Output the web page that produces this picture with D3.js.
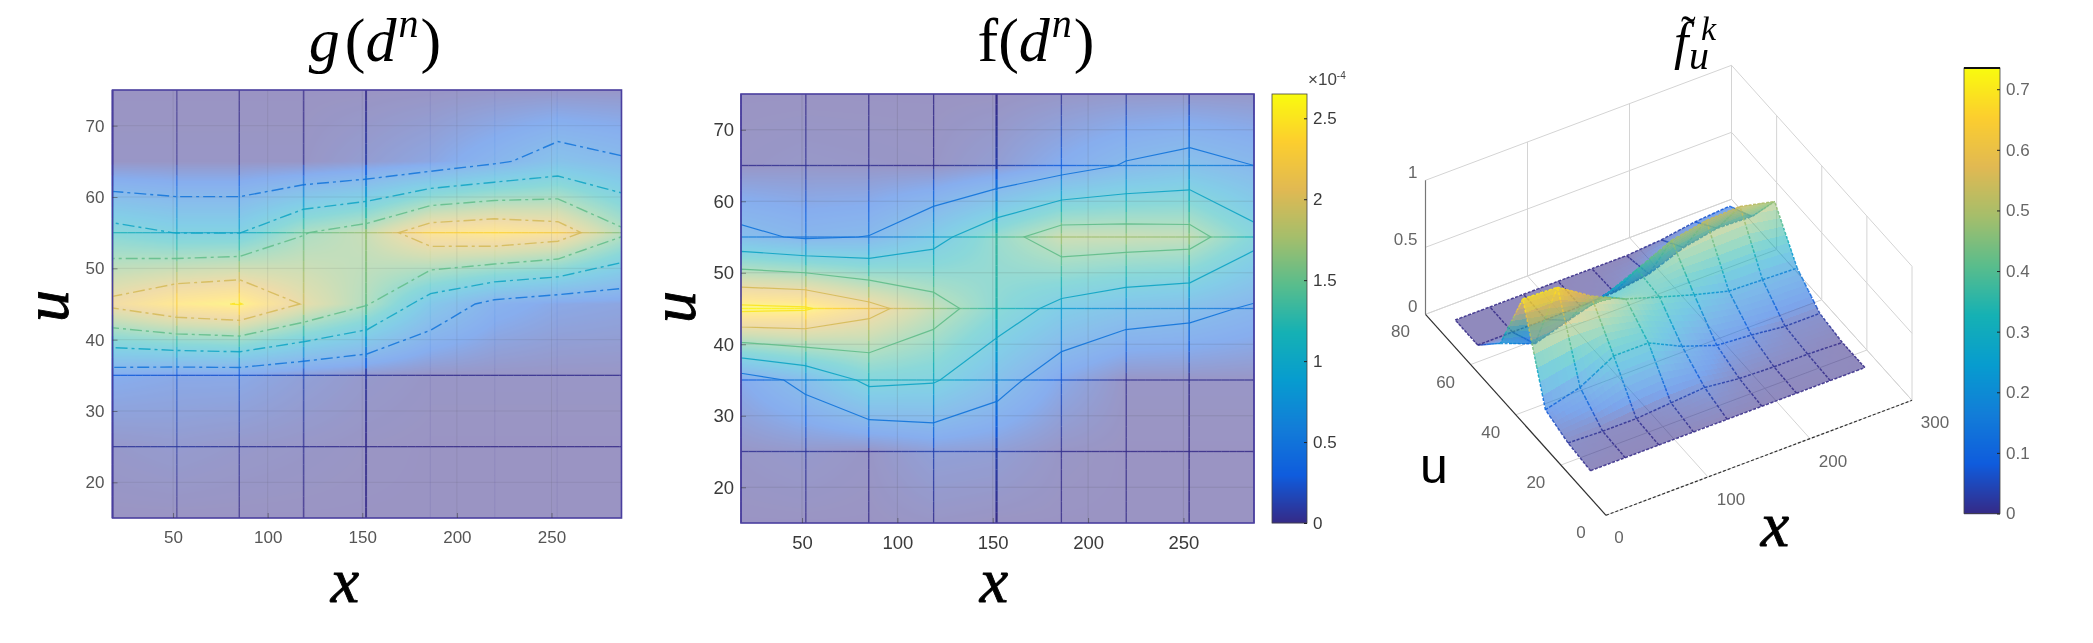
<!DOCTYPE html>
<html><head><meta charset="utf-8">
<script src="https://cdn.jsdelivr.net/npm/d3@7"></script>
<style>
html,body{margin:0;padding:0;background:#fff;overflow:hidden}
#wrap{position:relative;width:2093px;height:643px}
canvas,svg{position:absolute;left:0;top:0}
.soft{filter:blur(0.5px)}
.softer{filter:blur(0.7px)}
</style></head><body>
<div id="wrap"><canvas id="heat" width="2093" height="643"></canvas><svg id="chart" width="2093" height="643"></svg></div>
<script>
// ---------- data ----------
const xGrid = [18,52,85,119,152,186,220,253,287];
const uGrid = [15,25,35,45,55,65,75];
// rows follow uGrid, columns follow xGrid
const gValues = [
 [0,0,0,0,0,0,0,0,0],
 [0.05,0.08,0.05,0.03,0.01,0,0,0,0],
 [0.30,0.25,0.25,0.14,0.06,0.02,0.02,0.02,0.02],
 [2.10,2.40,2.52,1.97,1.53,0.78,0.38,0.24,0.20],
 [1.16,0.99,0.99,1.48,1.71,2.29,2.38,2.24,1.58],
 [0.02,0.02,0.02,0.02,0.10,0.21,0.43,0.68,0.54],
 [0,0,0,0,0,0.01,0.03,0.03,0.03]
];
const fValues = [
 [0,0,0,0.02,0,0,0,0,0],
 [0.03,0.06,0.02,0.14,0.12,0.02,0,0,0],
 [0.28,0.61,1.10,1.04,0.66,0.25,0.02,0.02,0.02],
 [2.60,2.55,2.15,1.69,1.23,0.88,0.70,0.62,0.45],
 [0.60,0.45,0.51,0.86,1.33,1.74,1.72,1.68,1.13],
 [0.02,0.04,0.03,0.02,0.11,0.31,0.53,0.65,0.50],
 [0,0,0,0,0,0.03,0.05,0.05,0.04]
];
const fkValues = [
 [0,0,0,0,0,0,0,0,0],
 [0.02,0.01,0.01,0.03,0.05,0.02,0.01,0.01,0],
 [0.08,0.15,0.29,0.29,0.17,0.08,0.06,0.03,0.03],
 [0.72,0.71,0.55,0.43,0.35,0.27,0.20,0.19,0.18],
 [0.20,0.10,0.18,0.26,0.37,0.49,0.54,0.55,0.49],
 [0,0,0,0,0.01,0.05,0.15,0.20,0.19],
 [0,0,0,0,0,0,0.02,0.06,0.08]
];
const contourLevels = [0.5,1,1.5,2,2.5];
const xTicks2D = [50,100,150,200,250];
const uTicks2D = [20,30,40,50,60,70];
const fBarTicks = [0,0.5,1,1.5,2,2.5];
const fkBarTicks = [0,0.1,0.2,0.3,0.4,0.5,0.6,0.7];
const xTicks3D = [0,100,200,300];
const uTicks3D = [0,20,40,60,80];
const zTicks3D = [0,0.5,1];
const parulaColors = ["#352a87","#0f5cdd","#127dd8","#079ccf","#15b1b4","#59bd8c","#a5be6b","#e1b952","#fcce2e","#f9fb0e"];

// ---------- helpers ----------
const svg = d3.select("#chart");
const ctx = document.getElementById("heat").getContext("2d");
const parula = d3.scaleLinear().domain(d3.range(10).map(i=>i/9)).range(parulaColors).interpolate(d3.interpolateRgb).clamp(true);
const xIdx = d3.scaleLinear().domain(xGrid).range(d3.range(xGrid.length)).clamp(true);
const uIdx = d3.scaleLinear().domain(uGrid).range(d3.range(uGrid.length)).clamp(true);
function bilinear(vals,x,u){
  const fx=xIdx(x),fu=uIdx(u),i=Math.min(Math.floor(fx),xGrid.length-2),j=Math.min(Math.floor(fu),uGrid.length-2),a=fx-i,b=fu-j;
  return (vals[j][i]*(1-a)+vals[j][i+1]*a)*(1-b)+(vals[j+1][i]*(1-a)+vals[j+1][i+1]*a)*b;
}
const serif = '"Liberation Serif","DejaVu Serif",serif';
const sans = '"Liberation Sans",Arimo,sans-serif';
function mathText(x,y,parts,size,anchor){
  const t=svg.append("text").attr("x",x).attr("y",y).attr("text-anchor",anchor||"middle").attr("font-family",serif).attr("font-size",size).attr("fill","#000");
  parts.forEach(p=>{
    const s=t.append("tspan").text(p.t).attr("font-style",p.i?"italic":"normal");
    if(p.dy) s.attr("dy",p.dy);
    if(p.dx) s.attr("dx",p.dx);
    if(p.fs) s.attr("font-size",p.fs);
  });
  return t;
}
const heavy=t=>t.attr("stroke","#000").attr("stroke-width",0.9);

// ---------- 2D panels ----------
function panel2D(id,vals,box,vmax,style){
  const xS=d3.scaleLinear().domain([18,287]).range([box.l,box.r]);
  const yS=d3.scaleLinear().domain([15,75]).range([box.b,box.t]);
  const color=v=>parula(v/vmax);
  const w=Math.round(box.r-box.l),h=Math.round(box.b-box.t);
  const img=ctx.createImageData(w,h);
  for(let py=0;py<h;py++)for(let px=0;px<w;px++){
    const v=bilinear(vals,xS.invert(box.l+px+.5),yS.invert(box.t+py+.5));
    const c=d3.rgb(color(v)),k=(py*w+px)*4,a=style.alpha;
    img.data[k]=c.r*a+255*(1-a);img.data[k+1]=c.g*a+255*(1-a);img.data[k+2]=c.b*a+255*(1-a);img.data[k+3]=255;
  }
  ctx.putImageData(img,Math.round(box.l),Math.round(box.t));
  const g=svg.append("g");
  const clipId="clip"+id;
  svg.append("clipPath").attr("id",clipId).append("rect").attr("x",box.l).attr("y",box.t).attr("width",box.r-box.l).attr("height",box.b-box.t);
  const grid=g.append("g").attr("stroke","#444").attr("stroke-opacity",style.gridOp).attr("stroke-width",1);
  grid.selectAll("line.v").data(xTicks2D).join("line").attr("x1",d=>xS(d)).attr("x2",d=>xS(d)).attr("y1",box.t).attr("y2",box.b);
  grid.selectAll("line.h").data(uTicks2D).join("line").attr("y1",d=>yS(d)).attr("y2",d=>yS(d)).attr("x1",box.l).attr("x2",box.r);
  const segs=[];
  xGrid.forEach((x,i)=>{ const op=style.meshX[i]; if(!op) return;
    d3.range(0,60,1.5).forEach(s=>{const u0=15+s,u1=u0+1.5;segs.push({x0:x,x1:x,u0,u1,v:bilinear(vals,x,u0+.75),op,w:style.meshW[i]||1.2});});
  });
  uGrid.forEach((u,j)=>{ const op=style.meshU[j]; if(!op) return;
    d3.range(0,269,4).forEach(s=>{const x0=18+s,x1=Math.min(x0+4,287);segs.push({x0,x1,u0:u,u1:u,v:bilinear(vals,x0+2,u),op,w:1.3});});
  });
  g.append("g").selectAll("line").data(segs).join("line")
    .attr("x1",d=>xS(d.x0)).attr("x2",d=>xS(d.x1)).attr("y1",d=>yS(d.u0)).attr("y2",d=>yS(d.u1))
    .attr("stroke",d=>color(d.v)).attr("stroke-opacity",d=>d.op).attr("stroke-width",d=>d.w);
  const cIdxX=d3.scaleLinear().domain([0.5,8.5]).range([18,287]);
  const cIdxY=d3.scaleLinear().domain([0.5,6.5]).range([15,75]);
  const path=d3.geoPath(d3.geoTransform({point(a,b){this.stream.point(xS(cIdxX(a)),yS(cIdxY(b)));}}));
  const cs=d3.contours().size([9,7]).smooth(true).thresholds(contourLevels)(vals.flat());
  g.append("g").attr("clip-path",`url(#${clipId})`).attr("fill","none").selectAll("path").data(cs).join("path")
    .attr("d",path).attr("stroke",d=>color(d.value)).attr("stroke-width",style.cw).attr("stroke-opacity",style.cOp)
    .attr("stroke-dasharray",style.dash||null);
  g.append("rect").attr("x",box.l).attr("y",box.t).attr("width",box.r-box.l).attr("height",box.b-box.t)
    .attr("fill","none").attr("stroke","#4a3f9f").attr("stroke-width",1.6);
  const ax=svg.append("g").attr("transform",`translate(0,${box.b})`).call(d3.axisBottom(xS).tickValues(xTicks2D).tickSize(-5).tickPadding(style.padX));
  const ay=svg.append("g").attr("transform",`translate(${box.l},0)`).call(d3.axisLeft(yS).tickValues(uTicks2D).tickSize(-5).tickPadding(style.padY));
  [ax,ay].forEach(a=>{a.select(".domain").remove();a.selectAll("line").attr("stroke","#333").attr("stroke-opacity",.5);
    a.selectAll("text").attr("font-family",sans).attr("font-size",style.fs).attr("fill",style.tc);
    a.attr("class",style.blur||null);a.attr("font-family",null);});
}
panel2D("g",gValues,{l:112.5,r:621.5,t:90,b:518},2.65,{alpha:.5,gridOp:.1,meshX:[.75,.6,.7,.7,.85,.08,.08,.08,.08],meshW:[2,1.4,1.4,1.6,2],meshU:[0,.85,.85,0,.75,0,0],cw:1.4,cOp:.85,dash:"12 4 3 4",padX:13,padY:8,fs:17,tc:"#555",blur:"softer"});
panel2D("f",fValues,{l:741,r:1254,t:94,b:523},2.65,{alpha:.5,gridOp:.14,meshX:[.8,.8,.85,.85,1,.8,.8,.85,.8],meshW:[1.5,1.3,1.3,1.3,2.2,1.3,1.3,1.6,1.3],meshU:[0,.85,.8,.8,.8,.85,0],cw:1.2,cOp:.9,padX:13,padY:7,fs:18.5,tc:"#3a3a3a",blur:"soft"});

// ---------- colour bars ----------
function colorbar(box,vmax,ticks,fmt,fs,tc){
  const yS=d3.scaleLinear().domain([0,vmax]).range([box.b,box.t]);
  svg.append("g").selectAll("rect").data(d3.range(box.t,box.b,1)).join("rect")
    .attr("x",box.l).attr("width",box.r-box.l).attr("y",d=>d).attr("height",1.2)
    .attr("fill",d=>parula(yS.invert(d+.5)/vmax));
  svg.append("rect").attr("x",box.l).attr("y",box.t).attr("width",box.r-box.l).attr("height",box.b-box.t).attr("fill","none").attr("stroke","#444").attr("stroke-width",.8);
  const a=svg.append("g").attr("transform",`translate(${box.r},0)`).attr("class","soft").call(d3.axisRight(yS).tickValues(ticks).tickFormat(fmt).tickSize(-3).tickPadding(6));
  a.select(".domain").remove();a.selectAll("line").attr("stroke","#222");
  a.selectAll("text").attr("font-family",sans).attr("font-size",fs).attr("fill",tc);
  return a;
}
colorbar({l:1272,r:1307,t:94,b:523},2.65,fBarTicks,d3.format("~g"),17,"#3a3a3a");
svg.append("text").attr("class","soft").attr("x",1308).attr("y",85).attr("font-family",sans).attr("font-size",17).attr("fill","#444").text("×10").append("tspan").attr("dy",-6).attr("font-size",10).text("-4");
colorbar({l:1964,r:2000,t:68,b:513.5},0.735,fkBarTicks,d3.format("~g"),17,"#666");
svg.append("line").attr("x1",1964).attr("x2",2000).attr("y1",68).attr("y2",68).attr("stroke","#111").attr("stroke-width",2);

// ---------- 3D panel ----------
const O=[1606,515.3], UV=[-180.5,-201], XV=[306,-115], ZV=[0,-134];
const xP=d3.scaleLinear().domain([0,300]).range([0,1]);
const uP=d3.scaleLinear().domain([0,80]).range([0,1]);
const zP=d3.scaleLinear().domain([0,1]).range([0,1]);
const proj=(x,u,z)=>[O[0]+xP(x)*XV[0]+uP(u)*UV[0]+zP(z)*ZV[0],O[1]+xP(x)*XV[1]+uP(u)*UV[1]+zP(z)*ZV[1]];
const line3=(g,a,b,attrs)=>{const p=proj(...a),q=proj(...b);const l=g.append("line").attr("x1",p[0]).attr("y1",p[1]).attr("x2",q[0]).attr("y2",q[1]);Object.entries(attrs||{}).forEach(([k,v])=>l.attr(k,v));return l;};
const g3=svg.append("g").attr("stroke-width",1);
const wall={stroke:"#d4d4d4"};
xTicks3D.forEach(x=>{line3(g3,[x,80,0],[x,80,1],wall);line3(g3,[x,0,0],[x,80,0],wall);});
uTicks3D.forEach(u=>{line3(g3,[300,u,0],[300,u,1],wall);line3(g3,[0,u,0],[300,u,0],wall);});
zTicks3D.forEach(z=>{line3(g3,[0,80,z],[300,80,z],wall);line3(g3,[300,80,z],[300,0,z],wall);});
// translucent surface and mesh, far to near: parts behind show through
const sub=8, items=[];
const surf=(x,u)=>proj(x,u,bilinear(fkValues,x,u));
const pathOf=pts=>"M"+pts.map(p=>p[0].toFixed(2)+","+p[1].toFixed(2)).join("L");
function addEdge(x0,u0,x1,u1){
  const v=bilinear(fkValues,(x0+x1)/2,(u0+u1)/2);
  items.push({d:pathOf([surf(x0,u0),surf(x1,u1)]),fill:"none",stroke:parula(v/0.735),sw:1.5,op:.85,dash:"3 1.5"});
}
for(let j=uGrid.length-2;j>=0;j--)for(let i=xGrid.length-2;i>=0;i--)
 for(let b=sub-1;b>=0;b--)for(let a=sub-1;a>=0;a--){
  const dx=xGrid[i+1]-xGrid[i],du=uGrid[j+1]-uGrid[j];
  const x0=xGrid[i]+dx*a/sub,x1=xGrid[i]+dx*(a+1)/sub,u0=uGrid[j]+du*b/sub,u1=uGrid[j]+du*(b+1)/sub;
  const v=bilinear(fkValues,(x0+x1)/2,(u0+u1)/2);
  items.push({d:pathOf([[x0,u0],[x1,u0],[x1,u1],[x0,u1]].map(([x,u])=>surf(x,u)))+"Z",fill:parula(v/0.735),fop:.55});
  if(j===uGrid.length-2&&b===sub-1) addEdge(x0,u1,x1,u1);
  if(i===xGrid.length-2&&a===sub-1) addEdge(x1,u0,x1,u1);
  if(b===0) addEdge(x0,u0,x1,u0);
  if(a===0) addEdge(x0,u0,x0,u1);
 }
svg.append("g").attr("class","soft").selectAll("path").data(items).join("path")
  .attr("d",d=>d.d).attr("fill",d=>d.fill).attr("fill-opacity",d=>d.fop||null)
  .attr("shape-rendering",d=>d.fop?"crispEdges":null)
  .attr("stroke",d=>d.stroke||"none").attr("stroke-width",d=>d.sw||null)
  .attr("stroke-opacity",d=>d.op||null).attr("stroke-dasharray",d=>d.dash||null);
const axG=svg.append("g").attr("class","soft");
line3(axG,[0,0,0],[0,80,0],{stroke:"#333","stroke-width":1.2});
line3(axG,[0,0,0],[300,0,0],{stroke:"#333","stroke-width":1.2,"stroke-dasharray":"3 2"});
line3(axG,[0,80,0],[0,80,1],{stroke:"#777","stroke-width":1.2});
const labs=axG.append("g").attr("font-family",sans).attr("font-size",17).attr("fill","#666").attr("text-anchor","middle");
labs.selectAll("text.u").data(uTicks3D).join("text").attr("x",d=>proj(0,d,0)[0]-25).attr("y",d=>proj(0,d,0)[1]+23).text(d=>d);
labs.selectAll("text.x").data(xTicks3D).join("text").attr("x",d=>proj(d,0,0)[0]+(d?23:13)).attr("y",d=>proj(d,0,0)[1]+28).text(d=>d);
labs.selectAll("text.z").data(zTicks3D).join("text").attr("text-anchor","end").attr("x",d=>proj(0,80,d)[0]-8).attr("y",d=>proj(0,80,d)[1]-2).text(d=>d);

// ---------- titles and axis names ----------
mathText(375,61,[{t:"g",i:1},{t:"(",dx:5},{t:"d",i:1},{t:"n",i:1,dy:-24,dx:2,fs:40},{t:")",dy:24,dx:2}],62);
mathText(1036,61,[{t:"f("},{t:"d",i:1},{t:"n",i:1,dy:-24,dx:2,fs:40},{t:")",dy:24,dx:2}],62);
mathText(1674,59,[{t:"f",i:1}],52,"start");
mathText(1681,46,[{t:"\u02DC"}],44,"start");
mathText(1689,69,[{t:"u",i:1}],40,"start");
mathText(1701,40,[{t:"k",i:1}],34,"start");
heavy(mathText(345,602,[{t:"x",i:1}],64));
heavy(mathText(994,602,[{t:"x",i:1}],64));
heavy(mathText(1775,546,[{t:"x",i:1}],64));
heavy(mathText(0,0,[{t:"u",i:1}],64)).attr("transform","translate(68,306) rotate(-90)");
heavy(mathText(0,0,[{t:"u",i:1}],64)).attr("transform","translate(695,307) rotate(-90)");
svg.append("text").attr("x",1434).attr("y",483).attr("text-anchor","middle").attr("font-family",sans).attr("font-size",50).attr("fill","#000").text("u");
</script>
</body></html>
